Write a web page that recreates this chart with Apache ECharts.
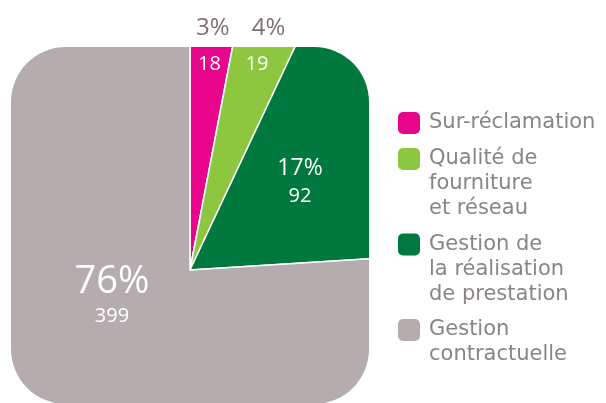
<!DOCTYPE html>
<html>
<head>
<meta charset="utf-8">
<script src="https://cdn.jsdelivr.net/npm/echarts@6/dist/echarts.min.js"></script>
<style>
html, body { margin: 0; padding: 0; background: #fff; }
#chart { width: 606px; height: 403px; }
</style>
</head>
<body>
<div id="chart"></div>
<script>
// données
var categories = ['Sur-réclamation', 'Qualité de\nfourniture\net réseau', 'Gestion de\nla réalisation\nde prestation', 'Gestion\ncontractuelle'];
var shares = [3, 4, 17, 76];      // %
var counts = [18, 19, 92, 399];
var colors = ['#e8058b', '#8dc63f', '#00793e', '#b4acad'];

// mise en page
var cx = 190, cy = 270;
var box = { x: 11, y: 47, w: 358, h: 357, r: 55 };
var font = 'Open Sans';
var legendFont = 'DejaVu Sans';
var textGrey = '#8a8485';
var pctGrey = '#7d7172';
var bigLabelAt = { 2: { r: 133, dy: -13 }, 3: { r: 114, dy: -57 } };

function midAngle(i) {
	var before = 0, total = 0;
	for (var k = 0; k < shares.length; k++) {
		total += shares[k];
		if (k < i) before += shares[k];
	}
	return (before + shares[i] / 2) / total * 2 * Math.PI;
}
// x on the middle ray of slice i at height y
function rayX(i, y) {
	return cx + (cy - y) * Math.tan(midAngle(i));
}

// white frame with a rounded-square hole (opposite winding)
function maskPath(b) {
	var x0 = b.x, y0 = b.y, x1 = b.x + b.w, y1 = b.y + b.h, r = b.r;
	var arc = ' A' + r + ' ' + r + ' 0 0 0 ';
	return 'M-5 -5 L611 -5 L611 410 L-5 410 Z ' +
		'M' + (x0 + r) + ' ' + y0 + arc + x0 + ' ' + (y0 + r) +
		' L' + x0 + ' ' + (y1 - r) + arc + (x0 + r) + ' ' + y1 +
		' L' + (x1 - r) + ' ' + y1 + arc + x1 + ' ' + (y1 - r) +
		' L' + x1 + ' ' + (y0 + r) + arc + (x1 - r) + ' ' + y0 + ' Z';
}

var sliceData = [], countData = [], pctData = [];
for (var i = 0; i < categories.length; i++) {
	sliceData.push({ name: categories[i], value: shares[i], itemStyle: { color: colors[i] } });
	countData.push({ name: categories[i], value: shares[i] });
	pctData.push({ name: categories[i], value: shares[i], label: { show: shares[i] < 5 } });
}

var legendRich = {
	t: { fontFamily: legendFont, fontSize: 21, color: textGrey, lineHeight: 25 },
	g: { width: 9, lineHeight: 25 },
	s: { width: 31, lineHeight: 25 }
};
for (var i = 0; i < colors.length; i++) {
	legendRich['m' + i] = { width: 22, height: 22, borderRadius: 5, backgroundColor: colors[i], lineHeight: 25 };
}

var myChart = echarts.init(document.getElementById('chart'));
var option = {
	animation: false,
	legend: {
		orient: 'vertical',
		z: 30,
		left: 392,
		top: 112,
		padding: 0,
		itemGap: 14,
		itemWidth: 0,
		itemHeight: 0,
		icon: 'rect',
		data: categories,
		formatter: function (name) {
			var idx = categories.indexOf(name);
			var lines = name.split('\n');
			var s = '{m' + idx + '|}{g|}{t|' + lines[0] + '}';
			for (var k = 1; k < lines.length; k++) {
				s += '\n{s|}{t|' + lines[k] + '}';
			}
			return s;
		},
		textStyle: { rich: legendRich }
	},
	series: [
		{
			type: 'pie',
			z: 2,
			center: [cx, cy],
			radius: 340,
			startAngle: 90,
			clockwise: true,
			silent: true,
			label: { show: false },
			labelLine: { show: false },
			itemStyle: { borderColor: '#fff', borderWidth: 1.5 },
			data: sliceData
		},
		{
			type: 'custom',
			coordinateSystem: 'none',
			z: 10,
			silent: true,
			data: [0],
			renderItem: function () {
				return {
					type: 'path',
					shape: { pathData: maskPath(box) },
					style: { fill: '#fff' }
				};
			}
		},
		{
			// chiffres (et % des grandes parts)
			type: 'pie',
			z: 20,
			center: [cx, cy],
			radius: 340,
			startAngle: 90,
			clockwise: true,
			silent: true,
			avoidLabelOverlap: false,
			itemStyle: { color: 'rgba(0,0,0,0)', borderWidth: 0 },
			labelLine: { show: false },
			label: {
				show: true,
				position: 'inside',
				formatter: function (p) {
					var i = p.dataIndex;
					if (shares[i] < 5) return '{v|' + counts[i] + '}';
					return '{' + (shares[i] > 50 ? 'pl' : 'pm') + '|' + shares[i] + '%}\n{v|' + counts[i] + '}';
				},
				rich: {
					v: { fontFamily: font, fontSize: 20, color: '#fff', lineHeight: 28 },
					pm: { fontFamily: font, fontSize: 23, color: '#fff', lineHeight: 28 },
					pl: { fontFamily: font, fontSize: 38, color: '#fff', lineHeight: 40 }
				}
			},
			labelLayout: function (p) {
				var i = p.dataIndex;
				if (shares[i] < 5) return { x: rayX(i, 64), y: 64 };
				var a = midAngle(i), o = bigLabelAt[i];
				return { x: cx + o.r * Math.sin(a), y: cy - o.r * Math.cos(a) + o.dy };
			},
			data: countData
		},
		{
			// % des petites parts, au-dessus du cadre
			type: 'pie',
			z: 20,
			center: [cx, cy],
			radius: 340,
			startAngle: 90,
			clockwise: true,
			silent: true,
			avoidLabelOverlap: false,
			itemStyle: { color: 'rgba(0,0,0,0)', borderWidth: 0 },
			labelLine: { show: false },
			label: {
				position: 'inside',
				formatter: '{c}%',
				fontFamily: font,
				fontSize: 24,
				fontWeight: 500,
				color: pctGrey
			},
			labelLayout: function (p) {
				return { x: rayX(p.dataIndex, 28), y: 28 };
			},
			data: pctData
		}
	]
};
myChart.setOption(option);
</script>
</body>
</html>
